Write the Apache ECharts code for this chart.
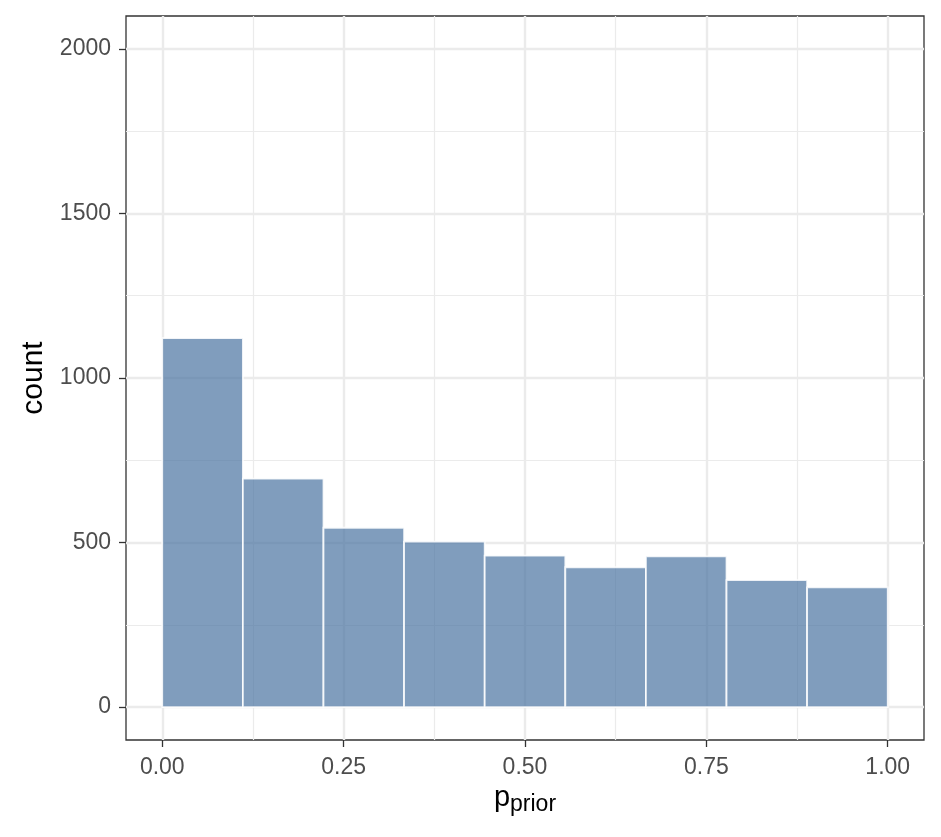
<!DOCTYPE html>
<html>
<head>
<meta charset="utf-8">
<script src="https://cdn.jsdelivr.net/npm/echarts@6/dist/echarts.min.js"></script>
<style>
  html, body { margin: 0; padding: 0; background: #fff; }
  #chart { width: 941px; height: 837px; }
</style>
</head>
<body>
<div id="chart"></div>
<script>
// histogram bins of p_prior (width 1/9)
const binStarts = [0, 1/9, 2/9, 3/9, 4/9, 5/9, 6/9, 7/9, 8/9]
const binWidth = 1 / 9
const counts = [1121, 694, 545, 503, 460, 425, 458, 386, 364]

const xMajor = [0, 0.25, 0.5, 0.75, 1]
const xMinor = [0.125, 0.375, 0.625, 0.875]
const yMajor = [0, 500, 1000, 1500, 2000]
const yMinor = [250, 750, 1250, 1750]

const font = '"Liberation Sans", Arial, sans-serif'
const chart = echarts.init(document.getElementById('chart'))

const gridLine = (w) => ({ show: true, lineStyle: { color: '#ebebeb', width: w } })

const option = {
  animation: false,
  grid: {
    left: 126, right: 17, top: 16, bottom: 97,
    show: true, borderColor: '#333', borderWidth: 1.3, backgroundColor: '#fff'
  },
  xAxis: [
    {
      type: 'value', min: -0.05, max: 1.05,
      axisLine: { show: false, onZero: false },
      axisTick: { show: true, length: 7, customValues: xMajor, lineStyle: { color: '#333', width: 1.3 } },
      axisLabel: {
        customValues: xMajor, margin: 16, color: '#4d4d4d', fontSize: 23, fontFamily: font,
        formatter: v => v.toFixed(2)
      },
      splitLine: gridLine(2.4),
      name: '{p|p}{s|prior}',
      nameLocation: 'middle',
      nameGap: 40,
      nameTextStyle: {
        rich: {
          p: { fontSize: 29, fontFamily: font, color: '#000' },
          s: { fontSize: 23, fontFamily: font, color: '#000', padding: [12, 0, 0, 0] }
        }
      }
    },
    {
      type: 'value', min: -0.05, max: 1.05, position: 'bottom',
      axisLine: { show: false, onZero: false },
      axisTick: { show: false, customValues: xMinor },
      axisLabel: { show: false, customValues: xMinor },
      splitLine: gridLine(1.2)
    }
  ],
  yAxis: [
    {
      type: 'value', min: -100, max: 2100,
      axisLine: { show: false, onZero: false },
      axisTick: { show: true, length: 7, customValues: yMajor, lineStyle: { color: '#333', width: 1.3 } },
      axisLabel: {
        customValues: yMajor, margin: 15, color: '#4d4d4d', fontSize: 23, fontFamily: font,
        formatter: v => String(v)
      },
      splitLine: gridLine(2.4),
      name: 'count',
      nameLocation: 'middle',
      nameRotate: 90,
      nameGap: 76,
      nameTextStyle: { fontSize: 30, fontFamily: font, color: '#000' }
    },
    {
      type: 'value', min: -100, max: 2100,
      axisLine: { show: false, onZero: false },
      axisTick: { show: false, customValues: yMinor },
      axisLabel: { show: false, customValues: yMinor },
      splitLine: gridLine(1.2)
    }
  ],
  series: [
    {
      type: 'custom',
      xAxisIndex: 0,
      yAxisIndex: 0,
      data: binStarts.map((s, i) => [s, s + binWidth, counts[i]]),
      renderItem: function (params, api) {
        const p0 = api.coord([api.value(0), 0])
        const p1 = api.coord([api.value(1), api.value(2)])
        return {
          type: 'rect',
          shape: { x: p0[0], y: p1[1], width: p1[0] - p0[0], height: p0[1] - p1[1] },
          style: { fill: 'rgba(74,116,161,0.7)', stroke: 'rgba(255,255,255,0.85)', lineWidth: 1.8 }
        }
      }
    }
  ]
}

chart.setOption(option)
</script>
</body>
</html>
